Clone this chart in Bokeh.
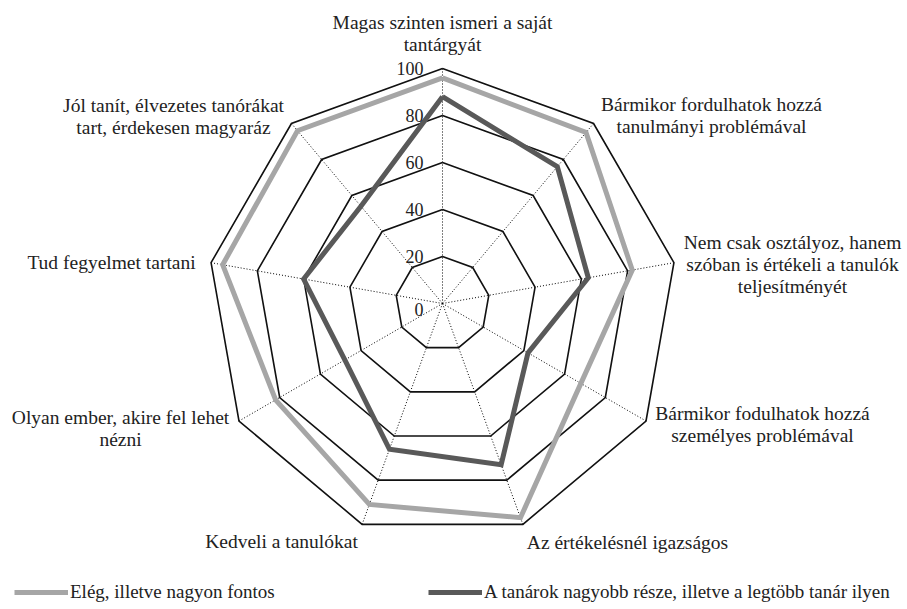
import math
from bokeh.plotting import figure
from bokeh.models import Legend, LegendItem, Range1d
from bokeh.core.properties import value
from bokeh.embed import file_html
from bokeh.resources import INLINE

# ---------------- data ----------------
CATEGORIES = [
    "Magas szinten ismeri a saját\ntantárgyát",
    "Bármikor fordulhatok hozzá\ntanulmányi problémával",
    "Nem csak osztályoz, hanem\nszóban is értékeli a tanulók\nteljesítményét",
    "Bármikor fodulhatok hozzá\nszemélyes problémával",
    "Az értékelésnél igazságos",
    "Kedveli a tanulókat",
    "Olyan ember, akire fel lehet\nnézni",
    "Tud fegyelmet tartani",
    "Jól tanít, élvezetes tanórákat\ntart, érdekesen magyaráz",
]
SERIES_NAMES = ["Elég, illetve nagyon fontos",
                "A tanárok nagyobb része, illetve a legtöbb tanár ilyen"]
ELEG = [96, 95, 82, 68, 97, 91, 82, 95, 96]
TANAROK = [88, 76, 63, 42, 73, 66, 48, 60, 54]
TICKS = [0, 20, 40, 60, 80, 100]
TICK_LABELS = ["0", "20", "40", "60", "80", "100"]

# ---------------- layout / style ----------------
W, H = 907, 609
K = 2.35            # pixels per value unit
CX, CY = 442, 303   # centre of the radar in figure pixels
FONT = "Liberation Serif"
GRAY = "#a6a6a6"
DARK = "#595959"

def fx(px):
    return (px - CX) / K

def fy(py):
    return (CY - py) / K

# label block centres (figure pixels) and line spacing
LABEL_POS = [(442, 22), (711, 104), (792, 242), (762, 413), (627, 542),
             (281, 541), (120, 417), (111, 262), (173, 105)]
LINE_GAP = 22

n = len(CATEGORIES)
ang = [2 * math.pi * i / n for i in range(n)]

def polar(vals):
    xs = [v * math.sin(a) for v, a in zip(vals, ang)]
    ys = [v * math.cos(a) for v, a in zip(vals, ang)]
    return xs + xs[:1], ys + ys[:1]

p = figure(width=W, height=H, output_backend="svg", toolbar_location=None,
           x_range=Range1d(fx(0), fx(W)), y_range=Range1d(fy(H), fy(0)),
           min_border=0, outline_line_color=None)
p.axis.visible = False
p.grid.visible = False
p.background_fill_color = "white"

# spokes
sx = [[0, 100 * math.sin(a)] for a in ang]
sy = [[0, 100 * math.cos(a)] for a in ang]
p.multi_line(sx, sy, line_color="black", line_width=1, line_dash="1 2")

# rings
rxs, rys = [], []
for r in TICKS[1:]:
    xs, ys = polar([r] * n)
    rxs.append(xs)
    rys.append(ys)
p.multi_line(rxs, rys, line_color="#111111", line_width=1.6, line_join="miter")

# series
gx, gy = polar(ELEG)
dx, dy = polar(TANAROK)
r1 = p.line(gx, gy, line_color=GRAY, line_width=5, line_join="miter")
r2 = p.line(dx, dy, line_color=DARK, line_width=5, line_join="miter")

# tick labels
tick_down = [6 if t == 0 else 0 for t in TICKS]
p.text(x=[0] * len(TICKS), y=TICKS, text=TICK_LABELS, x_offset=-19, y_offset=tick_down,
       text_align="right", text_baseline="middle", text_color="#222222",
       text_font=value(FONT), text_font_size="18px")

# category labels
lx, ly, lt = [], [], []
for (cx, cy), lab in zip(LABEL_POS, CATEGORIES):
    lines = lab.split("\n")
    for j, line in enumerate(lines):
        lx.append(fx(cx))
        ly.append(fy(cy + j * LINE_GAP))
        lt.append(line)
p.text(x=lx, y=ly, text=lt, text_align="center", text_baseline="middle",
       text_color="#222222", text_font=value(FONT), text_font_size="19.5px")

# legends
for rend, name, loc in [(r1, SERIES_NAMES[0], (14, 6)), (r2, SERIES_NAMES[1], (428, 6))]:
    lg = Legend(items=[LegendItem(label=name, renderers=[rend])], location=loc,
                orientation="horizontal", border_line_color=None,
                background_fill_alpha=0, padding=0, margin=0, spacing=0,
                glyph_width=54, glyph_height=12, label_height=12,
                label_standoff=2, label_text_font=FONT, label_text_font_size="19px",
                label_text_color="#222222", label_text_baseline="middle")
    p.add_layout(lg)

open("out.html", "w").write(file_html(p, INLINE))
